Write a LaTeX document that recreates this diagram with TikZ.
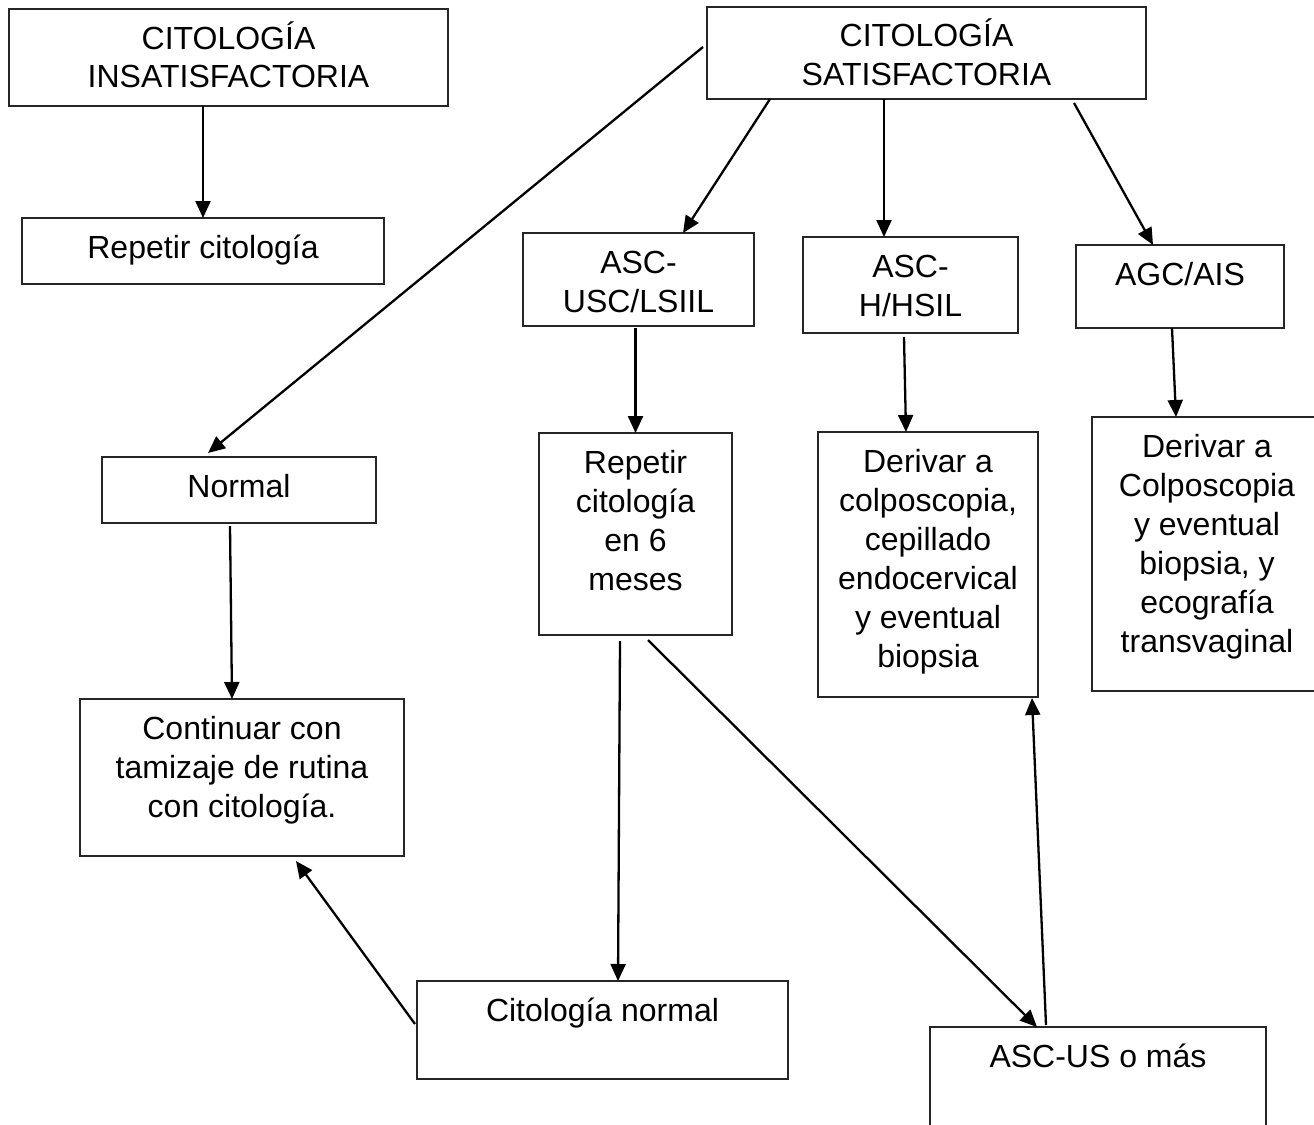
\documentclass[tikz,border=0pt]{standalone}
\usepackage{fontspec}
\setmainfont{Liberation Sans}
\usetikzlibrary{arrows.meta}

% box body: width, height, lines (first baseline 40pt below the top edge)
\newcommand{\boxbody}[3]{\parbox[t][#2pt][t]{#1pt}{\centering\rule{0pt}{40pt}#3}}

\tikzset{
  flowbox/.style={draw=black!85, line width=1.3pt, inner sep=0pt, outer sep=0pt,
    anchor=north west, font=\fontsize{32}{39}\selectfont},
  flowarrow/.style={draw=black, line width=2.3pt, -{Triangle[width=15pt,length=17pt]}},
}

\begin{document}
\begin{tikzpicture}[x=1pt, y=-1pt]
\useasboundingbox (0,0) rectangle (1314,1124);

% boxes
\node[flowbox] (insat) at (9,9) {\boxbody{439}{97}{CITOLOGÍA\\INSATISFACTORIA}};
\node[flowbox] (sat) at (707,7) {\boxbody{439}{92}{CITOLOGÍA\\SATISFACTORIA}};
\node[flowbox] (rep) at (22,218) {\boxbody{362}{66}{Repetir citología}};
\node[flowbox] (ascus) at (523,233) {\boxbody{231}{93}{ASC-\\USC/LSIIL}};
\node[flowbox] (asch) at (803,237) {\boxbody{215}{96}{ASC-\\H/HSIL}};
\node[flowbox] (agc) at (1076,245) {\boxbody{208}{83}{AGC/AIS}};
\node[flowbox] (normal) at (102,457) {\boxbody{274}{66}{Normal}};
\node[flowbox] (rep6) at (539,433) {\boxbody{193}{202}{Repetir\\citología\\en 6\\meses}};
\node[flowbox] (derivar) at (818,432) {\boxbody{220}{265}{Derivar a\\colposcopia,\\cepillado\\endocervical\\y eventual\\biopsia}};
\node[flowbox] (transv) at (1092,417) {\boxbody{230}{274}{Derivar a\\Colposcopia\\y eventual\\biopsia, y\\ecografía\\transvaginal}};
\node[flowbox] (continuar) at (80,699) {\boxbody{324}{157}{Continuar con\\tamizaje de rutina\\con citología.}};
\node[flowbox] (citnorm) at (417,981) {\boxbody{371}{98}{Citología normal}};
\node[flowbox] (ascusmas) at (930,1027) {\boxbody{336}{110}{ASC-US o más}};

% connectors
\draw[flowarrow] ([xshift=-25.5pt]insat.south) -- (rep.north);
\draw[flowarrow] ([xshift=-4pt,yshift=6pt]sat.west) -- ([xshift=-31pt,yshift=4pt]normal.north);
\draw[flowarrow] ([xshift=-156.5pt]sat.south) -- ([xshift=44.5pt]ascus.north);
\draw[flowarrow] ([xshift=-42.5pt]sat.south) -- ([xshift=-26.5pt]asch.north);
\draw[flowarrow] ([xshift=147.5pt,yshift=-4pt]sat.south) -- ([xshift=-27pt]agc.north);
\draw[flowarrow] ([xshift=-3pt,yshift=-2pt]ascus.south) -- (rep6.north);
\draw[flowarrow] ([xshift=-6.5pt,yshift=-4pt]asch.south) -- ([xshift=-22pt]derivar.north);
\draw[flowarrow] ([xshift=-8pt]agc.south) -- ([xshift=-31pt]transv.north);
\draw[flowarrow] ([xshift=-9pt,yshift=-3pt]normal.south) -- ([xshift=-10pt]continuar.north);
\draw[flowarrow] ([xshift=-15.5pt,yshift=-6pt]rep6.south) -- ([xshift=15.5pt]citnorm.north);
\draw[flowarrow] ([xshift=12.5pt,yshift=-5pt]rep6.south) -- ([xshift=-61pt]ascusmas.north);
\draw[flowarrow] ([xshift=-2pt,yshift=6pt]citnorm.west) -- ([xshift=54pt,yshift=-5pt]continuar.south);
\draw[flowarrow] ([xshift=-52pt,yshift=2pt]ascusmas.north) -- ([xshift=104pt,yshift=-1pt]derivar.south);
\end{tikzpicture}
\end{document}
